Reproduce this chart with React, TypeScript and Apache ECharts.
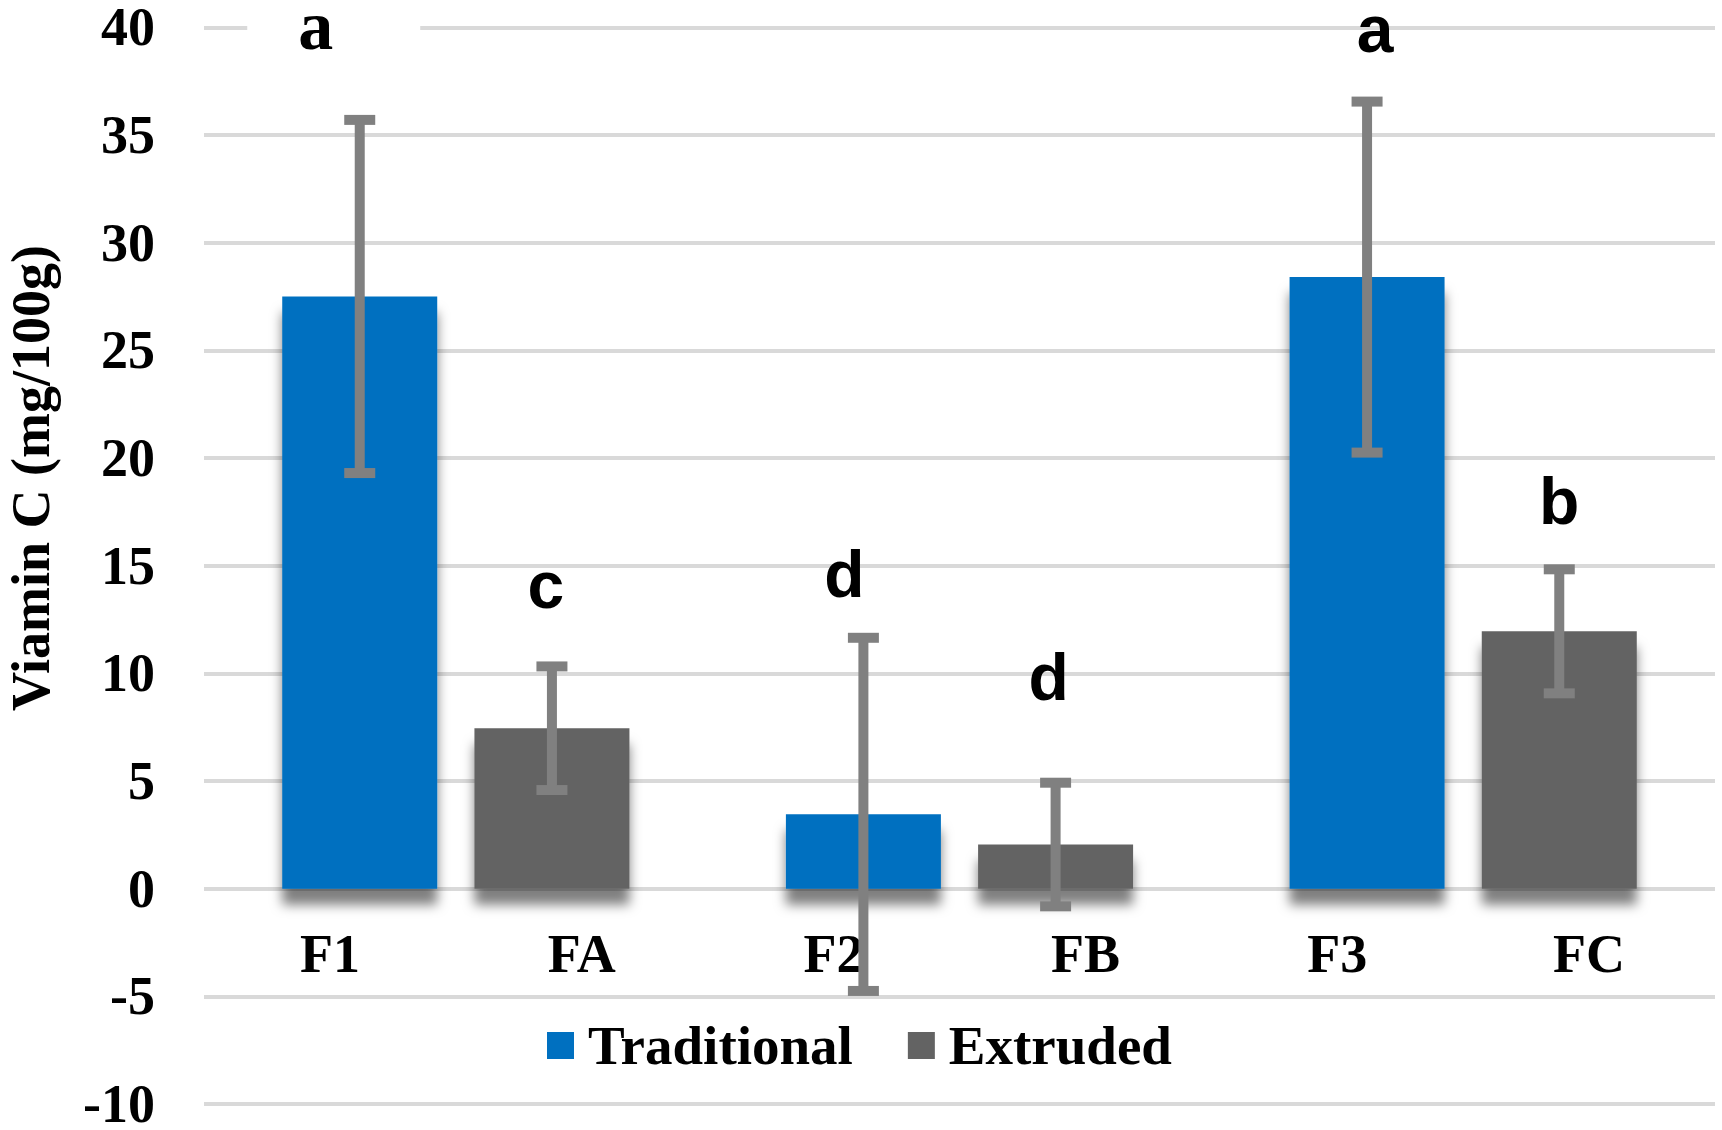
import React, { useEffect, useRef } from "react";
import * as echarts from "echarts";

// ---- data ----
const groups = ["G1", "G2", "G3"];
const tickLabels = ["F1", "FA", "F2", "FB", "F3", "FC"];
const seriesNames = ["Traditional", "Extruded"];
const traditional = [27.5, 3.45, 28.4];
const traditionalErr = [8.2, 8.2, 8.15];
const traditionalLetters = ["a", "d", "a"];
const traditionalLetterY = [40.1, 14.6, 39.9];
const extruded = [7.45, 2.05, 11.95];
const extrudedErr = [2.87, 2.87, 2.88];
const extrudedLetters = ["c", "d", "b"];
const extrudedLetterY = [14.1, 9.85, 18.0];
const yMin = -10;
const yMax = 40;
const yStep = 5;
const yTitle = "Viamin C (mg/100g)";

// ---- style / layout ----
const SERIF = '"Liberation Serif", "Times New Roman", serif';
const SANS = '"Liberation Sans Narrow", "Liberation Sans", Arial, sans-serif';
const BLUE = "#0070c0";
const GREY = "#636363";
const ERR = "#808080";
const BAR_W = 155;
const BAR_GAP = 0.24;
const OFFSET = (BAR_W * (1 + BAR_GAP)) / 2;
const CAP = 31;
const GRID_TOP = 27.3;
const GRID_BOTTOM = 26;
const CHART_H = 1130;
// small horizontal nudges of the significance letters (px), as in the source layout
const TRAD_LETTER_NUDGE = [-26, -19, 8];
const EXTR_LETTER_NUDGE = [-6, -7, 0];
// distance (px) from the bottom of the grid up to the zero line
const ZERO_UP = ((CHART_H - GRID_TOP - GRID_BOTTOM) * (0 - yMin)) / (yMax - yMin);

function makeErrRender(sign: number, letters: string[], letterY: number[], nudge: number[]) {
  return (params: any, api: any) => {
    const i = params.dataIndex;
    const v = api.value(1);
    const e = api.value(2);
    const base = api.coord([i, v]);
    const x = base[0] + sign * OFFSET;
    const yTop = api.coord([i, v + e])[1];
    const yBot = api.coord([i, v - e])[1];
    const yL = api.coord([i, letterY[i]])[1];
    const lineStyle = { stroke: ERR, lineWidth: 10 };
    const boxed = sign < 0 && i === 0;
    const text: any = boxed
      ? {
          type: "text",
          x: x + nudge[i],
          y: yL,
          z2: 5,
          style: {
            text: letters[i],
            font: "bold 70px " + SERIF,
            fill: "#000",
            align: "center",
            verticalAlign: "middle",
            backgroundColor: "#fff",
            padding: [4, 87, 4, 51],
          },
        }
      : {
          type: "text",
          x: x + nudge[i],
          y: yL,
          z2: 5,
          style: {
            text: letters[i],
            font: "bold 66px " + SANS,
            fill: "#000",
            align: "center",
            verticalAlign: "middle",
          },
        };
    return {
      type: "group",
      children: [
        { type: "line", shape: { x1: x, y1: yTop, x2: x, y2: yBot }, style: lineStyle },
        { type: "line", shape: { x1: x - CAP / 2, y1: yTop, x2: x + CAP / 2, y2: yTop }, style: lineStyle },
        { type: "line", shape: { x1: x - CAP / 2, y1: yBot, x2: x + CAP / 2, y2: yBot }, style: lineStyle },
        text,
      ],
    };
  };
}

export default function App() {
  const ref = useRef<HTMLDivElement>(null);
  useEffect(() => {
    if (!ref.current) return;
    const chart = echarts.init(ref.current, null, { renderer: "svg" });
    const barShadow = {
      shadowBlur: 12,
      shadowColor: "rgba(0,0,0,0.5)",
      shadowOffsetY: 16,
      shadowOffsetX: 0,
    };
    chart.setOption({
      animation: false,
      backgroundColor: "#fff",
      grid: {
        left: 204,
        right: 7,
        top: GRID_TOP,
        bottom: GRID_BOTTOM,
        containLabel: false,
        outerBoundsMode: "none",
      },
      legend: {
        data: seriesNames,
        left: 547,
        top: 1018,
        padding: 0,
        itemWidth: 27,
        itemHeight: 27,
        itemGap: 55,
        icon: "rect",
        textStyle: {
          fontFamily: SERIF,
          fontWeight: "bold",
          fontSize: 55,
          color: "#000",
          padding: [0, 0, 0, 9],
        },
      },
      xAxis: [
        {
          type: "category",
          data: groups,
          position: "bottom",
          axisLine: { show: false, onZero: false },
          axisTick: { show: false },
          axisLabel: { show: false },
          splitLine: { show: false },
        },
        {
          type: "category",
          data: tickLabels,
          position: "bottom",
          offset: -ZERO_UP,
          axisLine: { show: false, onZero: false },
          axisTick: { show: false },
          axisLabel: {
            margin: 38,
            interval: 0,
            fontFamily: SERIF,
            fontWeight: "bold",
            fontSize: 54,
            color: "#000",
          },
          splitLine: { show: false },
        },
      ],
      yAxis: {
        type: "value",
        min: yMin,
        max: yMax,
        interval: yStep,
        axisLine: { show: false },
        axisTick: { show: false },
        axisLabel: {
          margin: 49,
          fontFamily: SERIF,
          fontWeight: "bold",
          fontSize: 54,
          color: "#000",
        },
        splitLine: { lineStyle: { color: "#d9d9d9", width: 4 } },
      },
      graphic: [
        {
          type: "text",
          x: 31,
          y: 478,
          rotation: Math.PI / 2,
          style: {
            text: yTitle,
            font: "bold 54px " + SERIF,
            fill: "#000",
            align: "center",
            verticalAlign: "middle",
          },
        },
      ],
      series: [
        {
          name: seriesNames[0],
          type: "bar",
          xAxisIndex: 0,
          data: traditional,
          barWidth: BAR_W,
          barGap: BAR_GAP * 100 + "%",
          itemStyle: { color: BLUE, ...barShadow },
        },
        {
          name: seriesNames[1],
          type: "bar",
          xAxisIndex: 0,
          data: extruded,
          barWidth: BAR_W,
          barGap: BAR_GAP * 100 + "%",
          itemStyle: { color: GREY, ...barShadow },
        },
        {
          type: "custom",
          xAxisIndex: 0,
          z: 5,
          data: traditional.map((v, i) => [i, v, traditionalErr[i]]),
          renderItem: makeErrRender(-1, traditionalLetters, traditionalLetterY, TRAD_LETTER_NUDGE),
        },
        {
          type: "custom",
          xAxisIndex: 0,
          z: 5,
          data: extruded.map((v, i) => [i, v, extrudedErr[i]]),
          renderItem: makeErrRender(1, extrudedLetters, extrudedLetterY, EXTR_LETTER_NUDGE),
        },
      ],
    });
    return () => chart.dispose();
  }, []);
  return (
    <div
      ref={ref}
      style={{ position: "fixed", left: 0, top: 0, width: 1722, height: CHART_H, background: "#fff" }}
    />
  );
}
